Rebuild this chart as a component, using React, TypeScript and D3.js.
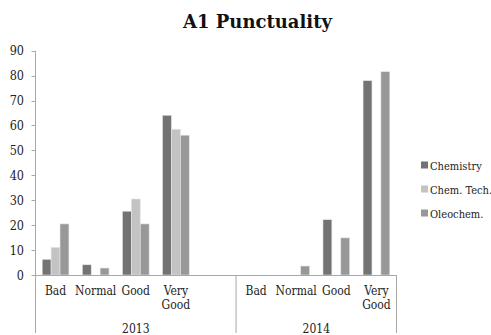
import React from "react";
import * as d3 from "d3";

const years = ["2013", "2014"];
const cats2013 = ["Bad", "Normal", "Good", "Very Good", ""];
const cats2014 = ["Bad", "Normal", "Good", "Very Good"];
const seriesNames = ["Chemistry", "Chem. Tech.", "Oleochem."];
const chemistry2013 = [6.3, 4.1, 25.6, 64.1, 0];
const chemTech2013 = [11.1, 0, 30.5, 58.5, 0];
const oleochem2013 = [20.5, 2.8, 20.5, 56.1, 0];
const chemistry2014 = [0, 0, 22.2, 78.0];
const chemTech2014 = [0, 0, 0, 0];
const oleochem2014 = [0, 3.6, 14.9, 81.6];
const yTicks = [0, 10, 20, 30, 40, 50, 60, 70, 80, 90];

const colors = ["#737373", "#c3c3c3", "#989898"];
const W = 491;
const H = 335;
const serif = { fontFamily: "'DejaVu Serif Condensed', 'DejaVu Serif', serif", fontStretch: "condensed" as const };

export default function App() {
  const slots = [
    ...cats2013.map((c, i) => ({ year: "2013", cat: c, key: "2013|" + i, vals: [chemistry2013[i], chemTech2013[i], oleochem2013[i]] })),
    ...cats2014.map((c, i) => ({ year: "2014", cat: c, key: "2014|" + i, vals: [chemistry2014[i], chemTech2014[i], oleochem2014[i]] })),
  ];
  const left = 35.5;
  const right = 396.5;
  const x = d3.scaleBand<string>().domain(slots.map((s) => s.key)).range([left, right]).paddingInner(0).paddingOuter(0);
  const xs = d3.scaleBand<string>().domain(seriesNames).range([0, x.bandwidth()]).paddingInner(0).paddingOuter(0.75);
  const y = d3.scaleLinear().domain([0, 90]).range([275, 50.7]);
  const axisColor = "#a8a8a8";

  const groupBounds = years.map((yr) => {
    const ks = slots.filter((s) => s.year === yr);
    const x0 = x(ks[0].key)!;
    const x1 = x(ks[ks.length - 1].key)! + x.bandwidth();
    return { yr, x0, x1 };
  });

  return (
    <svg width={W} height={H} style={{ position: "absolute", left: 0, top: 0, background: "#fff" }}>
      <text x={257.5} y={28} textAnchor="middle" style={{ fontFamily: "'DejaVu Serif', serif" }} fontWeight="bold" fontSize={18} fill="#111">
        A1 Punctuality
      </text>
      {/* bars */}
      {slots.map((s) =>
        s.vals.map((v, j) =>
          v > 0 ? (
            <rect
              key={s.key + j}
              x={x(s.key)! + xs(seriesNames[j])!}
              y={y(v)}
              width={xs.bandwidth()}
              height={y(0) - y(v)}
              fill={colors[j]}
              stroke="#e6e6e6"
              strokeWidth={0.6}
            />
          ) : null
        )
      )}
      {/* y axis */}
      <line x1={left} x2={left} y1={y(90)} y2={333} stroke={axisColor} strokeWidth={1} />
      {yTicks.map((t) => (
        <g key={t}>
          <line x1={left - 4} x2={left} y1={Math.round(y(t)) + 0.5} y2={Math.round(y(t)) + 0.5} stroke={axisColor} />
          <text x={24} y={y(t) + 4.5} textAnchor="end" fontSize={12.5} fill="#222" style={serif}>
            {t}
          </text>
        </g>
      ))}
      {/* x axis */}
      <line x1={left} x2={right} y1={275.5} y2={275.5} stroke={axisColor} />
      {groupBounds.map((g) => (
        <line key={g.yr} x1={g.x1} x2={g.x1} y1={275} y2={333} stroke={axisColor} />
      ))}
      {slots.map((s) => {
        const cx = x(s.key)! + x.bandwidth() / 2;
        const words = s.cat === "Very Good" ? ["Very", "Good"] : [s.cat];
        return (
          <text key={"l" + s.key} textAnchor="middle" fontSize={12} fill="#222" style={serif}>
            {words.map((w, i) => (
              <tspan key={i} x={cx} y={295 + i * 13.5}>
                {w}
              </tspan>
            ))}
          </text>
        );
      })}
      {groupBounds.map((g) => (
        <text key={"y" + g.yr} x={(g.x0 + g.x1) / 2} y={333} textAnchor="middle" fontSize={12} fill="#222" style={serif}>
          {g.yr}
        </text>
      ))}
      {/* legend */}
      {seriesNames.map((n, i) => (
        <g key={n} transform={`translate(421, ${165 + i * 24})`}>
          <rect x={0} y={-3.5} width={7} height={7} fill={colors[i]} />
          <text x={9} y={4.5} fontSize={11} fill="#222" style={serif}>
            {n}
          </text>
        </g>
      ))}
    </svg>
  );
}
